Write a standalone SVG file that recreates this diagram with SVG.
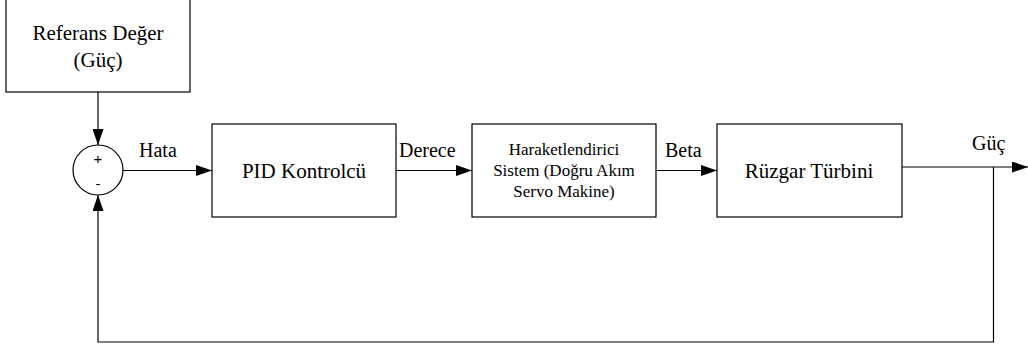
<svg xmlns="http://www.w3.org/2000/svg" width="1028" height="349" viewBox="0 0 1028 349">
<style>
.box{fill:#fff;stroke:#000;stroke-width:1.2}
.ln{fill:none;stroke:#000;stroke-width:1.2}
.t{font-size:21px;text-anchor:middle}
.s{font-size:17px;text-anchor:middle}
.l{font-size:20px}
.pm{font-size:15px;text-anchor:middle}
</style>
<defs>
<marker id="ah" viewBox="0 0 16 11" refX="16" refY="5.5" markerWidth="16" markerHeight="11" markerUnits="userSpaceOnUse" orient="auto">
<path d="M0,0 L16,5.5 L0,11 Z" fill="#000"/>
</marker>
</defs>
<rect width="1028" height="349" fill="#fff"/>
<g id="connectors" font-family="Liberation Serif, DejaVu Serif, serif">
<path class="ln" d="M98,92 V145" marker-end="url(#ah)"/>
<path class="ln" d="M123,170.5 H212" marker-end="url(#ah)"/>
<path class="ln" d="M396,170.5 H472" marker-end="url(#ah)"/>
<path class="ln" d="M656,170.5 H717" marker-end="url(#ah)"/>
<path class="ln" d="M902,167 H1028" marker-end="url(#ah)"/>
<path class="ln" d="M993.5,167 V342 H98 V195" marker-end="url(#ah)"/>
<text class="l" x="139" y="157">Hata</text>
<text class="l" x="399" y="157">Derece</text>
<text class="l" x="665" y="157">Beta</text>
<text class="l" x="972" y="150">Güç</text>
</g>
<g id="referans" font-family="Liberation Serif, DejaVu Serif, serif">
<rect class="box" x="6" y="-2" width="184" height="94"/>
<text class="t" x="98" y="40">Referans Değer</text>
<text class="t" x="98" y="67">(Güç)</text>
</g>
<g id="toplam" font-family="Liberation Sans, sans-serif">
<circle class="box" cx="98" cy="170" r="25"/>
<text class="pm" x="98" y="164">+</text>
<text class="pm" x="98" y="189">-</text>
</g>
<g id="pid" font-family="Liberation Serif, DejaVu Serif, serif">
<rect class="box" x="212" y="124" width="184" height="93"/>
<text class="t" x="304" y="178">PID Kontrolcü</text>
</g>
<g id="haraketlendirici" font-family="Liberation Serif, DejaVu Serif, serif">
<rect class="box" x="472" y="124" width="184" height="93"/>
<text class="s" x="564" y="155">Haraketlendirici</text>
<text class="s" x="564" y="176">Sistem (Doğru Akım</text>
<text class="s" x="564" y="197">Servo Makine)</text>
</g>
<g id="ruzgar" font-family="Liberation Serif, DejaVu Serif, serif">
<rect class="box" x="717" y="124" width="185" height="93"/>
<text class="t" x="809" y="178">Rüzgar Türbini</text>
</g>
</svg>
